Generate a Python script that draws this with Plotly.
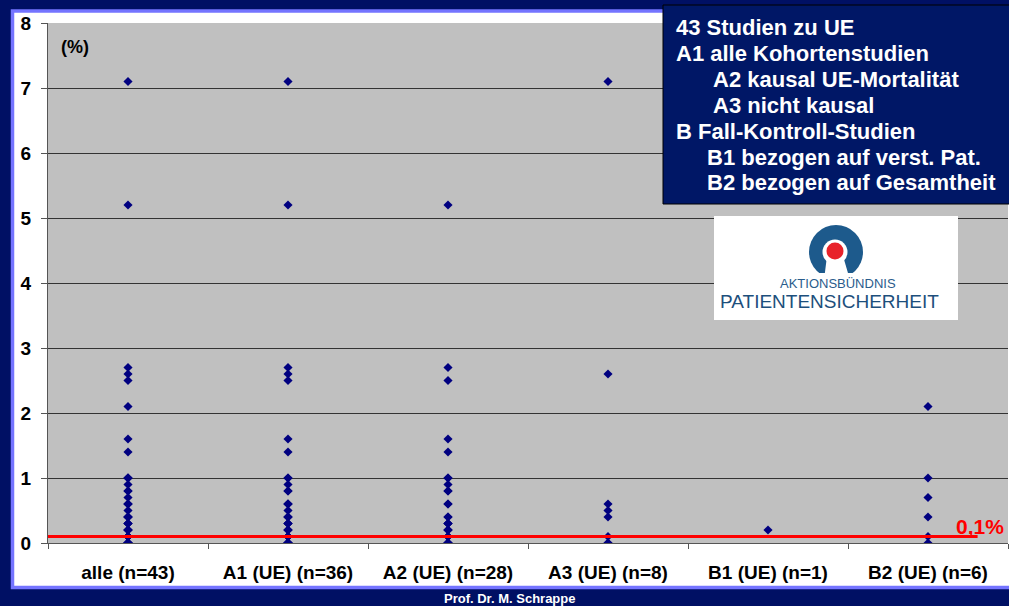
import plotly.graph_objects as go

# Kategorien (x-Achse)
categories = ["alle (n=43)", "A1 (UE) (n=36)", "A2 (UE) (n=28)",
              "A3 (UE) (n=8)", "B1 (UE) (n=1)", "B2 (UE) (n=6)"]

# UE-Mortalitaet in % je Studie
a2_values = [5.2, 2.7, 2.5, 1.6, 1.4, 1.0, 1.0, 0.9, 0.8, 0.8, 0.6, 0.6, 0.4, 0.4,
             0.3, 0.3, 0.3, 0.2, 0.2, 0.2, 0.1, 0.1, 0.1, 0.0, 0.0, 0.0, 0.0, 0.0]
a3_values = [7.1, 2.6, 0.6, 0.5, 0.4, 0.1, 0.0, 0.0]
b1_values = [0.2]
b2_values = [2.1, 1.0, 0.7, 0.4, 0.1, 0.0]
a1_values = a2_values + a3_values
alle_values = a1_values + b1_values + b2_values

threshold = 0.1
threshold_label = "0,1%"

legend_lines = [
    ("43 Studien zu UE", 0),
    ("A1 alle Kohortenstudien", 0),
    ("A2 kausal UE-Mortalität", 1),
    ("A3 nicht kausal", 1),
    ("B Fall-Kontroll-Studien", 0),
    ("B1 bezogen auf verst. Pat.", 2),
    ("B2 bezogen auf Gesamtheit", 2),
]

series = [alle_values, a1_values, a2_values, a3_values, b1_values, b2_values]

W, H = 1009, 606
L, R, T, B = 48, 1, 23, 63
PW, PH = W - L - R, H - T - B


def px(x):
    return (x - L) / PW


def py(y):
    return (H - B - y) / PH


NAVY = "#001064"
FONT = "Arial, Liberation Sans, sans-serif"

xs, ys = [], []
for cat, vals in zip(categories, series):
    xs += [cat] * len(vals)
    ys += vals

fig = go.Figure()
fig.add_trace(go.Scatter(
    x=xs, y=ys, mode="markers",
    marker=dict(symbol="diamond", size=7, color="#000080"),
    showlegend=False, hoverinfo="x+y",
))

shapes = [
    # weisser Folienhintergrund mit hellblauem Rand
    dict(type="rect", xref="paper", yref="paper", layer="below",
         x0=px(12.5), x1=px(1014), y0=py(587.5), y1=py(11),
         fillcolor="white", line=dict(color="#7474ff", width=3.5)),
    # grauer Plotbereich
    dict(type="rect", xref="paper", yref="paper", layer="below",
         x0=0, x1=1, y0=0, y1=1, fillcolor="#c0c0c0", line=dict(width=0)),
    # 0,1%-Linie
    dict(type="line", xref="x", yref="y", layer="above",
         x0=-0.5, x1=5.31, y0=threshold, y1=threshold,
         line=dict(color="#ff0000", width=3)),
    # Legendenkasten
    dict(type="rect", xref="paper", yref="paper", layer="above",
         x0=px(663), x1=px(1015), y0=py(204), y1=py(5),
         fillcolor="#001766", line=dict(color="#000000", width=1)),
    # Logo
    dict(type="rect", xref="paper", yref="paper", layer="above",
         x0=px(714), x1=px(958), y0=py(320), y1=py(216),
         fillcolor="white", line=dict(width=0)),
    dict(type="circle", xref="paper", yref="paper", layer="above",
         x0=px(836 - 27), x1=px(836 + 27), y0=py(252 + 27), y1=py(252 - 27),
         fillcolor="#1d5a8c", line=dict(width=0)),
    dict(type="circle", xref="paper", yref="paper", layer="above",
         x0=px(835 - 12.5), x1=px(835 + 12.5), y0=py(252 + 12.5), y1=py(252 - 12.5),
         fillcolor="white", line=dict(width=0)),
    dict(type="path", xref="paper", yref="paper", layer="above",
         path=(f"M {px(827)} {py(256)} L {px(843)} {py(256)} "
               f"L {px(850)} {py(280)} L {px(824)} {py(280)} Z"),
         fillcolor="white", line=dict(width=0)),
    dict(type="rect", xref="paper", yref="paper", layer="above",
         x0=px(806), x1=px(866), y0=py(281), y1=py(273),
         fillcolor="white", line=dict(width=0)),
    dict(type="circle", xref="paper", yref="paper", layer="above",
         x0=px(835 - 8.5), x1=px(835 + 8.5), y0=py(251 + 8.5), y1=py(251 - 8.5),
         fillcolor="#e8222a", line=dict(width=0)),
]

annotations = [
    dict(text="(%)", x=px(59), y=py(47), xanchor="left", yanchor="middle",
         font=dict(family=FONT, size=18, color="black", weight="bold")),
    dict(text=threshold_label, x=px(980), y=py(526), xanchor="center", yanchor="middle",
         font=dict(family=FONT, size=21, color="#ff0000", weight="bold")),
    dict(text="AKTIONSBÜNDNIS", x=px(838), y=py(283), xanchor="center", yanchor="middle",
         font=dict(family=FONT, size=13, color="#2a5c8c")),
    dict(text="PATIENTENSICHERHEIT", x=px(829), y=py(301), xanchor="center", yanchor="middle",
         font=dict(family=FONT, size=19, color="#1d4f7c")),
    dict(text="Prof. Dr. M. Schrappe", x=px(509), y=py(598), xanchor="center", yanchor="middle",
         font=dict(family=FONT, size=13, color="white", weight="bold")),
]

indent_x = [674, 711, 705]
for i, (line, level) in enumerate(legend_lines):
    annotations.append(dict(
        text=line, x=px(indent_x[level]), y=py(28 + i * 25.8),
        xanchor="left", yanchor="middle",
        font=dict(family=FONT, size=22, color="white", weight="bold"),
    ))

for a in annotations:
    a.update(xref="paper", yref="paper", showarrow=False)

fig.update_layout(
    width=W, height=H,
    margin=dict(l=L, r=R, t=T, b=B),
    paper_bgcolor=NAVY,
    plot_bgcolor="rgba(0,0,0,0)",
    shapes=shapes,
    annotations=annotations,
    xaxis=dict(
        type="category", categoryorder="array", categoryarray=categories,
        range=[-0.5, 5.5], showgrid=False, zeroline=False,
        showline=True, linecolor="#555555", linewidth=1,
        ticks="outside", tickson="boundaries", ticklen=5, tickcolor="#555555",
        ticklabelstandoff=12,
        tickfont=dict(family=FONT, size=19, color="black", weight="bold"),
    ),
    yaxis=dict(
        range=[0, 8], dtick=1, showgrid=True, gridcolor="#333333", gridwidth=1,
        zeroline=False, showline=True, linecolor="#555555", linewidth=1,
        ticks="outside", ticklen=6, tickcolor="#555555",
        ticklabelstandoff=6,
        tickfont=dict(family=FONT, size=19, color="black", weight="bold"),
    ),
)

fig.write_html("out.html", config={"displayModeBar": False},
               post_script="document.body.style.margin = '0';")
